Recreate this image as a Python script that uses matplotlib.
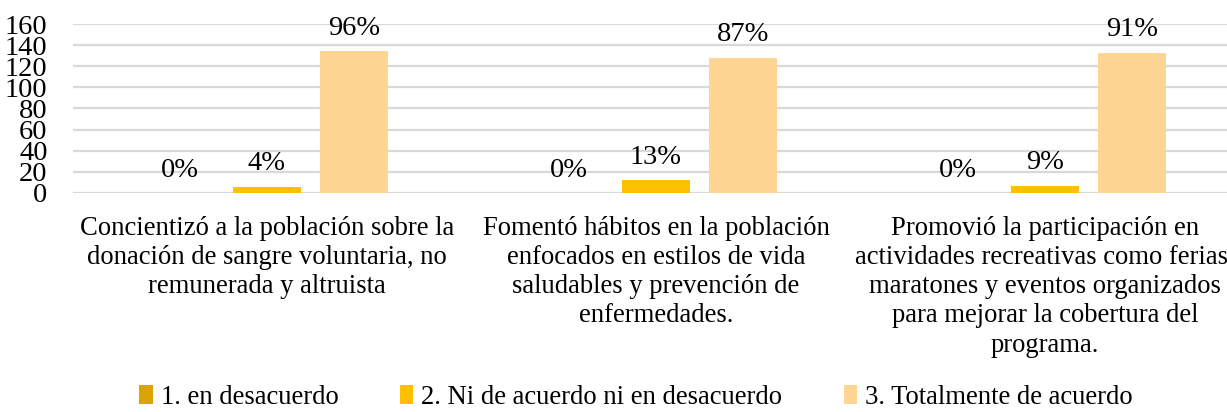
import matplotlib
matplotlib.use("Agg")
import matplotlib.pyplot as plt
import numpy as np

categories = [
    "Concientizó a la población sobre la\ndonación de sangre voluntaria, no\nremunerada y altruista",
    "Fomentó hábitos en la población\nenfocados en estilos de vida\nsaludables y prevención de\nenfermedades.",
    "Promovió la participación en\nactividades recreativas como ferias,\nmaratones y eventos organizados\npara mejorar la cobertura del\nprograma.",
]
series_names = ["1. en desacuerdo", "2. Ni de acuerdo ni en desacuerdo", "3. Totalmente de acuerdo"]
values_1 = [0, 0, 0]
values_2 = [6, 12, 7]
values_3 = [134, 128, 133]
labels_1 = ["0%", "0%", "0%"]
labels_2 = ["4%", "13%", "9%"]
labels_3 = ["96%", "87%", "91%"]
yticks = [0, 20, 40, 60, 80, 100, 120, 140, 160]

colors = ["#DBA404", "#FFC000", "#FFD593"]

plt.rcParams['font.family'] = ['Liberation Serif', 'DejaVu Serif']

fig = plt.figure(figsize=(12.27, 4.12), dpi=100)
ax = fig.add_axes([72.5/1227, (412-193)/412, 1167/1227, 169/412])

x = np.arange(len(categories))
width = 0.175
offset = 0.224
series = [values_1, values_2, values_3]
labels = [labels_1, labels_2, labels_3]
handles = []
for i, (vals, labs) in enumerate(zip(series, labels)):
    pos = x + (i - 1) * offset
    b = ax.bar(pos, vals, width, color=colors[i], label=series_names[i], zorder=3)
    handles.append(b)
    for p, v, l in zip(pos, vals, labs):
        ax.annotate(l, (p, v), xytext=(0, 16.5), textcoords='offset points',
                    ha='center', va='center', fontsize=20.5, color='black')

ax.set_xlim(-0.5, len(categories) - 0.5)
ax.set_ylim(0, 160)
ax.set_yticks(yticks)
ax.set_yticklabels([str(t) for t in yticks], fontsize=20.5)
ax.set_xticks(x)
ax.set_xticklabels(categories, fontsize=19.2, linespacing=1.22)
ax.tick_params(axis='y', length=0, pad=18)
ax.tick_params(axis='x', length=0, pad=16.5)
ax.yaxis.grid(True, color='#D9D9D9', linewidth=1.6, zorder=0)
ax.set_axisbelow(True)
for s in ax.spines.values():
    s.set_visible(False)

fig.legend(handles=handles, labels=series_names, loc='center', bbox_to_anchor=(636/1227, 1 - 397/412),
           ncol=3, frameon=False, fontsize=19.2, handlelength=0.5, handleheight=0.7,
           handletextpad=0.3, columnspacing=2.3)

fig.savefig("out.png", dpi=100)
